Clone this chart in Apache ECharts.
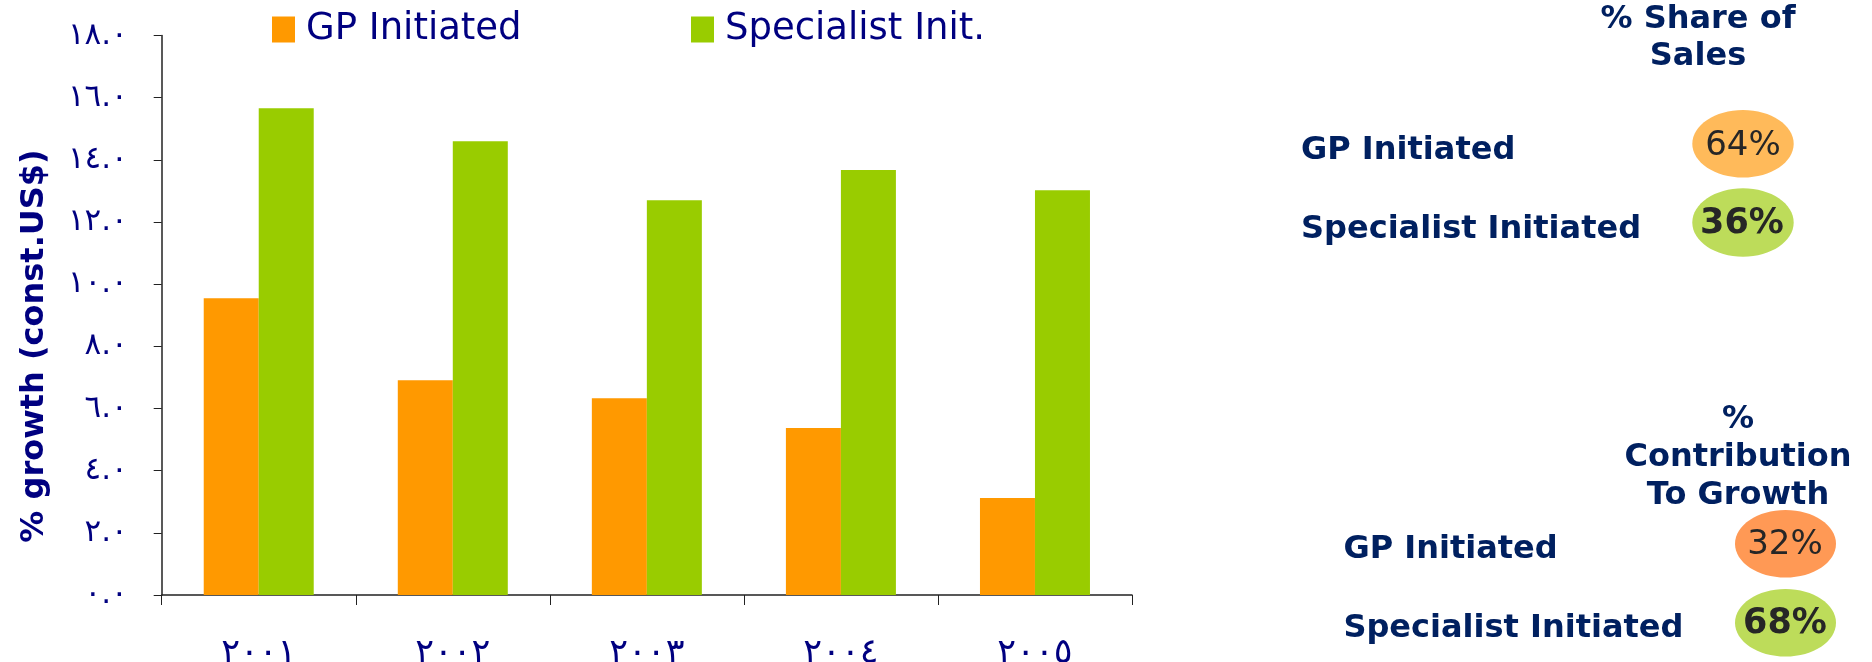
<!DOCTYPE html>
<html><head><meta charset="utf-8">
<script src="https://cdn.jsdelivr.net/npm/echarts@6/dist/echarts.min.js"></script>
<style>html,body{margin:0;padding:0;background:#fff}#c{width:1872px;height:662px}</style>
</head><body><div id="c"></div>
<script>
// ---- data ----
const years = ['٢٠٠١', '٢٠٠٢', '٢٠٠٣', '٢٠٠٤', '٢٠٠٥'];
const gpInitiated = [9.55, 6.91, 6.33, 5.37, 3.12];
const specialistInit = [15.66, 14.6, 12.7, 13.67, 13.02];
const seriesNames = ['GP Initiated', 'Specialist Init.'];
const yMin = 0, yMax = 18, yStep = 2;
const arabicDigits = ['٠', '١', '٢', '٣', '٤', '٥', '٦', '٧', '٨', '٩'];
const yAxisTitle = '% growth (const.US$)';
const panelLabels = ['GP Initiated', 'Specialist Initiated'];
const shareOfSales = [64, 36];
const contributionToGrowth = [32, 68];
const shareTitle = ['% Share of', 'Sales'];
const contribTitle = ['%', 'Contribution', 'To Growth'];

// ---- helpers ----
function toArabic(s) { return String(s).replace(/[0-9]/g, d => arabicDigits[+d]); }

const NAVY = '#000080';
const DARK = '#002060';
const panelFont = { fontFamily: 'DejaVu Sans', fontWeight: 'bold', fontSize: 32, fill: DARK };

function txt(text, x, y, align, extra) {
  return { type: 'text', x: x, y: y, style: Object.assign({ text: text, align: align, verticalAlign: 'middle' }, panelFont, extra || {}) };
}
function ell(cx, cy, rx, ry, color) {
  return { type: 'ellipse', shape: { cx: cx, cy: cy, rx: rx, ry: ry }, style: { fill: color } };
}

const graphics = [];
// y-axis title
graphics.push({ type: 'text', x: 35, y: 346, rotation: Math.PI / 2,
  style: { text: yAxisTitle, align: 'center', verticalAlign: 'middle', fontFamily: 'DejaVu Sans', fontWeight: 'bold', fontSize: 32, fill: NAVY } });
// Panel 1: share of sales
shareTitle.forEach((t, i) => graphics.push(txt(t, 1698, 20 + i * 36.5, 'center')));
graphics.push(txt(panelLabels[0], 1301, 150.5, 'left'));
graphics.push(txt(panelLabels[1], 1301, 229.5, 'left'));
graphics.push(ell(1743, 143.8, 50.7, 33.8, '#FFBA5A'));
graphics.push(ell(1743, 222.5, 50.7, 34.2, '#BDDC5A'));
graphics.push(txt(shareOfSales[0] + '%', 1743, 145.8, 'center', { fontSize: 34, fontWeight: 'normal', fill: '#262626' }));
graphics.push(txt(shareOfSales[1] + '%', 1742, 224, 'center', { fontSize: 35, fill: '#262626' }));
// Panel 2: contribution to growth
contribTitle.forEach((t, i) => graphics.push(txt(t, 1738, 420 + i * 37.7, 'center')));
graphics.push(txt(panelLabels[0], 1343.4, 550, 'left'));
graphics.push(txt(panelLabels[1], 1343.4, 628.5, 'left'));
graphics.push(ell(1785.5, 543.8, 50.5, 33.8, '#FF9955'));
graphics.push(ell(1785.5, 622.8, 50.5, 33.8, '#BDDC5A'));
graphics.push(txt(contributionToGrowth[0] + '%', 1785, 545.5, 'center', { fontSize: 34, fontWeight: 'normal', fill: '#262626' }));
graphics.push(txt(contributionToGrowth[1] + '%', 1785, 624.2, 'center', { fontSize: 35, fill: '#262626' }));

const legendText = { fontFamily: 'DejaVu Sans', fontSize: 37, color: NAVY, padding: [0, 0, 0, 6] };

const chart = echarts.init(document.getElementById('c'), null, { renderer: 'canvas' });
chart.setOption({
  animation: false,
  backgroundColor: '#ffffff',
  grid: { left: 161.7, right: 740, top: 35.5, bottom: 67, containLabel: false, outerBoundsMode: 'none' },
  legend: [
    { data: [seriesNames[0]], left: 267, top: 6, itemWidth: 23, itemHeight: 26, icon: 'rect', textStyle: legendText },
    { data: [seriesNames[1]], left: 686, top: 6, itemWidth: 23, itemHeight: 26, icon: 'rect', textStyle: legendText }
  ],
  xAxis: {
    type: 'category',
    data: years,
    boundaryGap: true,
    axisLine: { show: true, lineStyle: { color: '#222', width: 1.5 } },
    axisTick: { show: true, length: 10, lineStyle: { color: '#222' } },
    axisLabel: { fontFamily: 'DejaVu Sans', fontSize: 35, color: NAVY, margin: 41 },
    splitLine: { show: false }
  },
  yAxis: {
    type: 'value',
    min: yMin, max: yMax, interval: yStep,
    axisLine: { show: true, lineStyle: { color: '#222', width: 1.5 } },
    axisTick: { show: true, length: 8, lineStyle: { color: '#222' } },
    axisLabel: { fontFamily: 'DejaVu Sans', fontSize: 31, color: NAVY, margin: 34,
      formatter: v => toArabic(v.toFixed(1)) },
    splitLine: { show: false }
  },
  series: [
    { name: seriesNames[0], type: 'bar', data: gpInitiated, barWidth: 55, barGap: '0%', itemStyle: { color: '#FF9900' } },
    { name: seriesNames[1], type: 'bar', data: specialistInit, barWidth: 55, barGap: '0%', itemStyle: { color: '#99CC00' } }
  ],
  graphic: graphics
});
</script></body></html>
